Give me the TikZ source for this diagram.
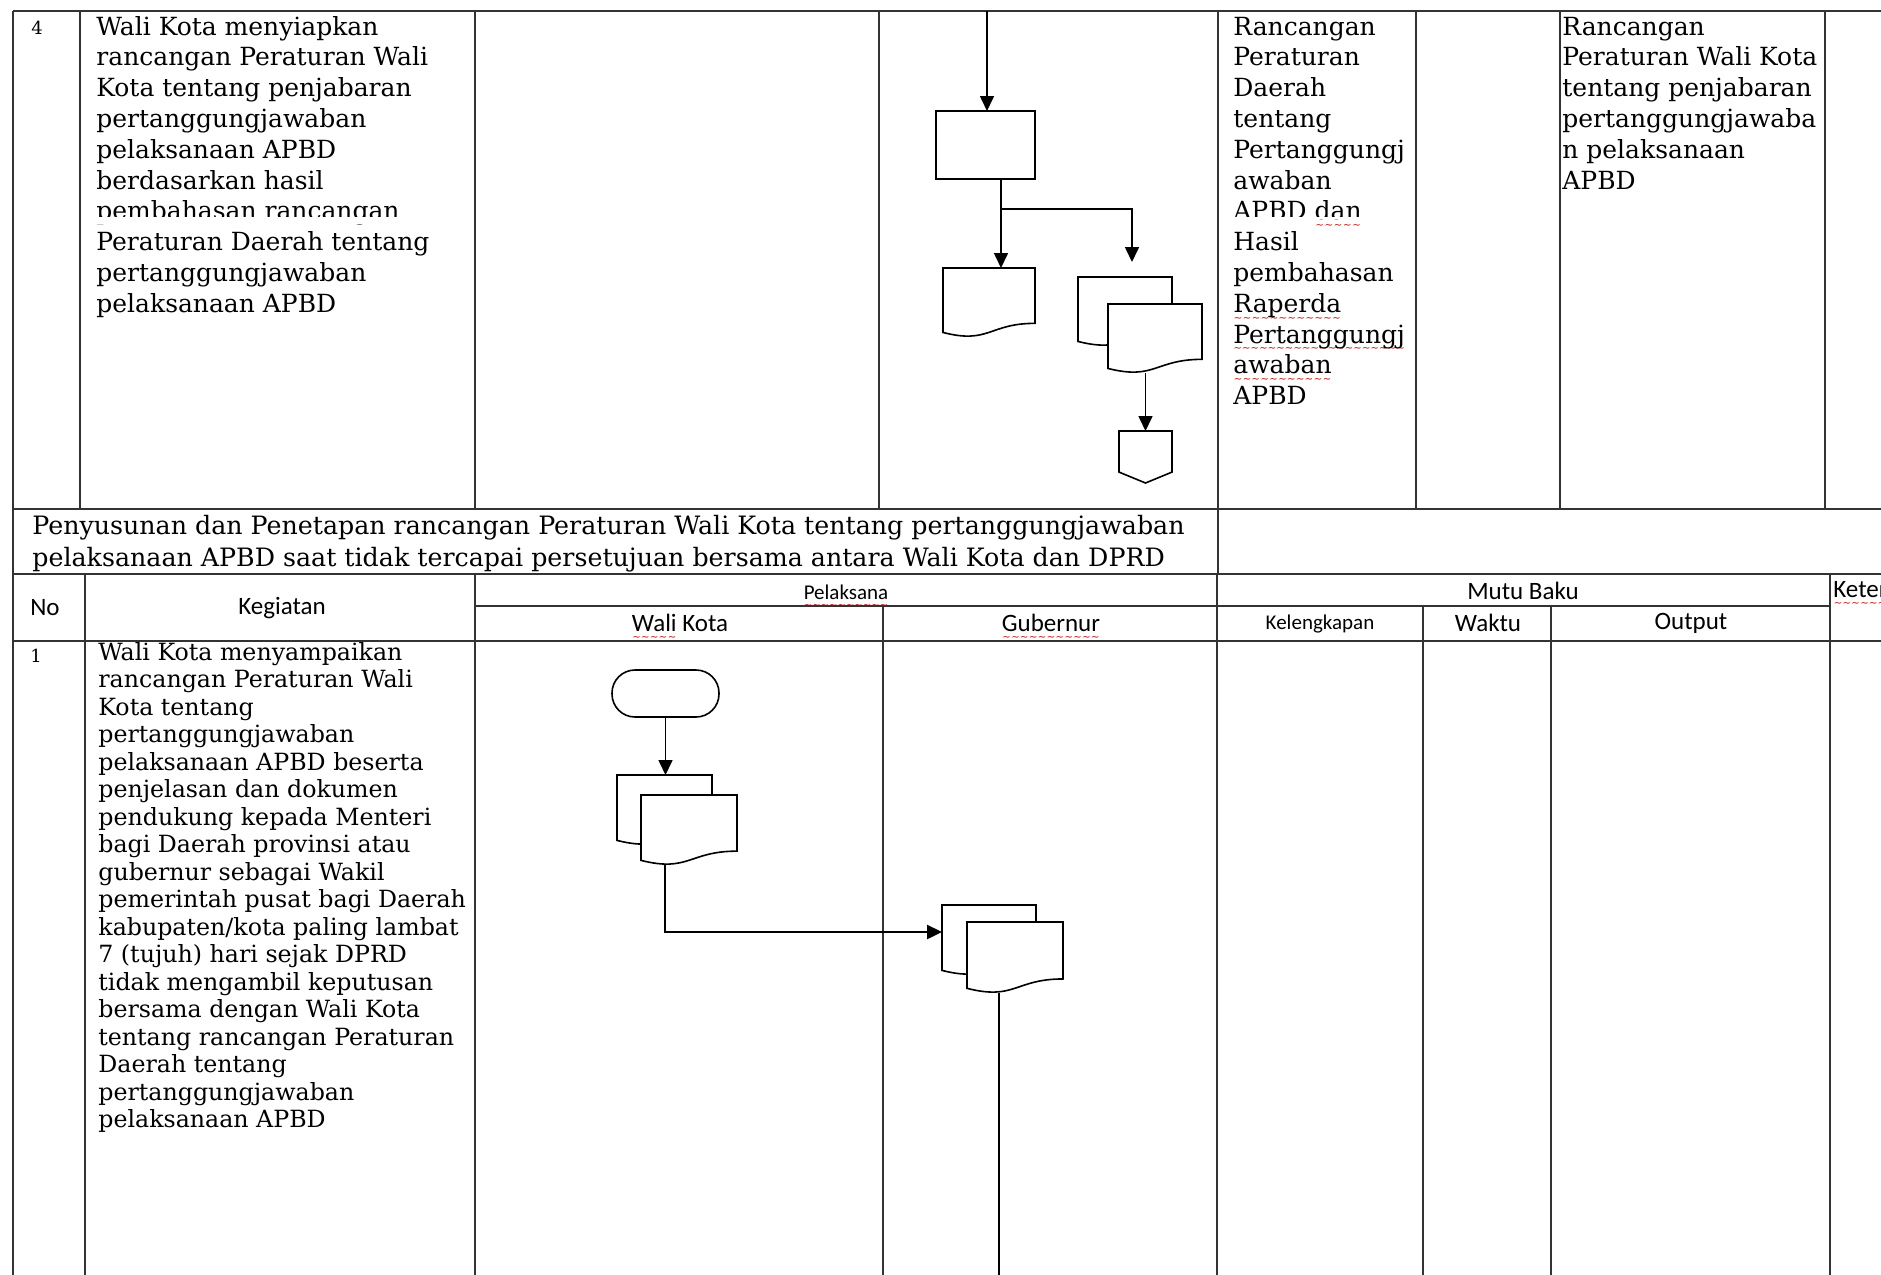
\documentclass[tikz,border=0pt]{standalone}
\usepackage{fontspec}
\setmainfont{DejaVu Serif}
\newfontfamily\headfont{Carlito}
\newfontfamily\wavefont{DejaVu Sans}
\usetikzlibrary{arrows.meta,calc}

% red spell-check wave under a word
\newcommand\spellmark[1]{\setbox0\hbox{#1}\leavevmode\rlap{\raisebox{-4.4pt}[0pt][0pt]{\color{red!80!black}\wavefont\fontsize{5}{5}\selectfont\hbox to\wd0{\xleaders\hbox{\char"007E}\hfil}}}\box0\relax}

% flowchart document symbol with a wavy lower edge, drawn inside a named node
\newcommand\drawdoc[1]{%
  \draw[flow, fill=white] (#1.north west) -- (#1.north east)
    -- ($(#1.north east)!0.802!(#1.south east)$)
    .. controls ($(#1.north)!0.802!(#1.south)$) and ($(#1.north)!1.107!(#1.south)$)
    .. ($(#1.north west)!0.934!(#1.south west)$) -- cycle;}
% off-page connector drawn inside a named node
\newcommand\drawoffpage[1]{%
  \draw[flow, fill=white] (#1.north west) -- (#1.north east)
    -- ($(#1.north east)!0.79!(#1.south east)$) -- (#1.south)
    -- ($(#1.north west)!0.79!(#1.south west)$) -- cycle;}

\begin{document}
\begin{tikzpicture}[x=0.5pt,y=-0.5pt,
  grid/.style={line width=1.1pt, black!80},
  flow/.style={line width=0.8pt, black},
  arr/.style={flow, -{Triangle[length=7.5pt,width=7pt]}},
  boxnode/.style={rectangle, inner sep=0pt, outer sep=0pt},
  procbox/.style={boxnode, draw, line width=0.8pt, minimum width=49.5pt, minimum height=34pt},
  termbox/.style={boxnode, draw, line width=0.8pt, rounded corners=11.5pt, minimum width=53.5pt, minimum height=23.5pt},
  docarea/.style={boxnode, minimum width=47pt, minimum height=35pt},
  pagearea/.style={boxnode, minimum width=26.5pt, minimum height=26pt},
  % multi-line texts are placed by the baseline of their last line
  body/.style={inner sep=0pt, anchor=base west, align=left, font=\fontsize{12.5}{15.4}\selectfont},
  title/.style={inner sep=0pt, anchor=base west, align=left, font=\fontsize{12.65}{16}\selectfont},
  small/.style={inner sep=0pt, anchor=base west, align=left, font=\fontsize{11.85}{13.75}\selectfont},
  num/.style={inner sep=0pt, font=\fontsize{9}{10}\selectfont},
  head/.style={inner sep=0pt, font=\headfont\fontsize{12.5}{14}\selectfont},
  headsmall/.style={inner sep=0pt, font=\headfont\fontsize{10.5}{12}\selectfont}
]
\useasboundingbox (0,0) rectangle (1881,1275);
\clip (0,0) rectangle (1881,1275);
\fill[white] (0,0) rectangle (1881,1275);

% ---------- step 4 ----------
\node[num] (n4) at (37,28) {4};
\node[body] (k4) at (96,312.2) {Wali Kota menyiapkan\\rancangan Peraturan Wali\\Kota tentang penjabaran\\pertanggungjawaban\\pelaksanaan APBD\\berdasarkan hasil\\pembahasan rancangan\\Peraturan Daerah tentang\\pertanggungjawaban\\pelaksanaan APBD};
\node[body] (kl4) at (1233,404.6) {Rancangan\\Peraturan\\Daerah\\tentang\\Pertanggungj\\awaban\\APBD \spellmark{dan}\\Hasil\\pembahasan\\\spellmark{Raperda}\\\spellmark{Pertanggungj}\\\spellmark{awaban}\\APBD};
\node[body] (out4) at (1562,189) {Rancangan\\Peraturan Wali Kota\\tentang penjabaran\\pertanggungjawaba\\n pelaksanaan\\APBD};
% page seam cutting through one text line
\fill[white] (88,216.5) rectangle (470,224);
\fill[white] (1225,216.5) rectangle (1410,219);

% ---------- section title ----------
\node[title] (ttl) at (32,566) {Penyusunan dan Penetapan rancangan Peraturan Wali Kota tentang pertanggungjawaban\\pelaksanaan APBD saat tidak tercapai persetujuan bersama antara Wali Kota dan DPRD};

% ---------- header ----------
\node[head] (hno) at (45,608) {No};
\node[head] (hkeg) at (282,608) {Kegiatan};
\node[headsmall] (hpel) at (846,592) {\spellmark{Pelaksana}};
\node[head] (hwk) at (680,623) {\spellmark{Wali} Kota};
\node[head] (hgub) at (1051,623) {\spellmark{Gubernur}};
\node[head] (hmb) at (1523,591) {Mutu Baku};
\node[headsmall] (hkel) at (1320,624) {Kelengkapan};
\node[head] (hwak) at (1488,623) {Waktu};
\node[head] (hout) at (1691,623) {Output};
\node[head, anchor=west] (hket) at (1833,592) {\spellmark{Keterangan}};

% ---------- step 1 ----------
\node[num] (n1) at (36,656) {1};
\node[small] (k1) at (98,1127.5) {Wali Kota menyampaikan\\rancangan Peraturan Wali\\Kota tentang\\pertanggungjawaban\\pelaksanaan APBD beserta\\penjelasan dan dokumen\\pendukung kepada Menteri\\bagi Daerah provinsi atau\\gubernur sebagai Wakil\\pemerintah pusat bagi Daerah\\kabupaten/kota paling lambat\\7 (tujuh) hari sejak DPRD\\tidak mengambil keputusan\\bersama dengan Wali Kota\\tentang rancangan Peraturan\\Daerah tentang\\pertanggungjawaban\\pelaksanaan APBD};

% ---------- table rules ----------
\draw[grid] (13,11) -- (1881,11);
\foreach \x in {13,80,475,879,1218,1416,1560,1825} \draw[grid] (\x,11) -- (\x,509);
\draw[grid] (13,509) -- (1881,509);
\draw[grid] (13,509) -- (13,574);
\draw[grid] (1218,509) -- (1218,574);
\draw[grid] (13,574) -- (1881,574);
\foreach \x in {13,85,475,1217,1830} \draw[grid] (\x,574) -- (\x,1275);
\foreach \x in {883,1423,1551} \draw[grid] (\x,606) -- (\x,1275);
\draw[grid] (475,606) -- (1830,606);
\draw[grid] (13,641) -- (1881,641);

% ---------- flow, step 4 (Gubernur lane) ----------
\node[procbox] (proc) at (985.5,145) {};
\node[docarea, minimum width=46pt, minimum height=34.5pt] (d1) at (989,302.5) {};
\node[docarea, minimum height=34.5pt] (mb1) at (1125,311.5) {};
\node[docarea, minimum height=34.5pt] (mf1) at (1155,338.5) {};
\node[pagearea] (offp) at (1145.5,457) {};

\coordinate (in4) at (987,11);
\coordinate (split) at (1001,209);
\coordinate (br) at (1132,262);
\draw[arr] (in4) -- (in4 |- proc.north);
\draw[flow] (split |- proc.south) -- (split);
\draw[arr] (split) -- (split |- d1.north);
\draw[arr] (split) -| (br);
\draw[arr] (offp.north |- mf1.south) -- (offp.north);

\drawdoc{d1}
\drawdoc{mb1}
\drawdoc{mf1}
\drawoffpage{offp}

% ---------- flow, step 1 ----------
\node[termbox] (term) at (665.5,693.5) {};
\node[docarea, minimum width=47.5pt] (wb) at (664.5,810) {};
\node[docarea, minimum width=48pt] (wf) at (689,830) {};
\node[docarea] (gb) at (989,940) {};
\node[docarea, minimum width=48pt, minimum height=35.5pt] (gf) at (1015,957.5) {};

\coordinate (bend) at (665,932);
\coordinate (gout) at (999,1275);
\draw[arr] (term.south) -- (term.south |- wb.north);
\draw[arr, line width=1.2pt] (bend |- wf.south) -- (bend) -- (bend -| gb.west);
\draw[flow, line width=1pt] (gout |- gf.south) -- (gout);

\drawdoc{wb}
\drawdoc{wf}
\drawdoc{gb}
\drawdoc{gf}
\end{tikzpicture}
\end{document}
